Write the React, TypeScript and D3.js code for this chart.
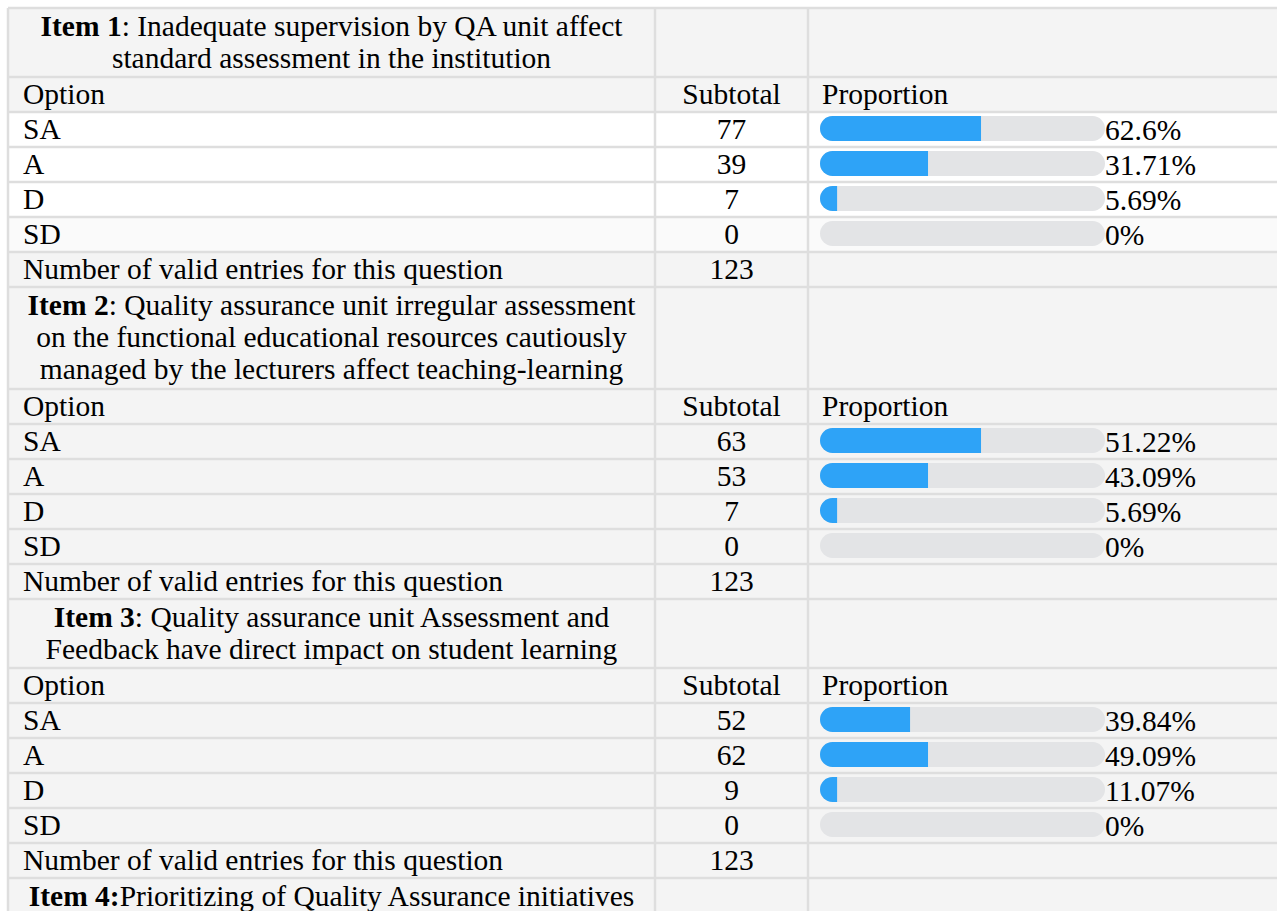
import React, { useEffect } from 'react';
import * as d3 from 'd3';

const options = ['SA', 'A', 'D', 'SD'];
const itemLabels = ['Item 1', 'Item 2', 'Item 3', 'Item 4:'];
const itemTitles = [
  [': Inadequate supervision by QA unit affect', 'standard assessment in the institution'],
  [
    ': Quality assurance unit irregular assessment',
    'on the functional educational resources cautiously',
    'managed by the lecturers affect teaching-learning',
  ],
  [': Quality assurance unit Assessment and', 'Feedback have direct impact on student learning'],
  ['Prioritizing of Quality Assurance initiatives'],
];
const subtotals = [
  [77, 39, 7, 0],
  [63, 53, 7, 0],
  [52, 62, 9, 0],
];
const proportionLabels = [
  ['62.6%', '31.71%', '5.69%', '0%'],
  ['51.22%', '43.09%', '5.69%', '0%'],
  ['39.84%', '49.09%', '11.07%', '0%'],
];
// bar fill as drawn in the picture (share of the grey track)
const barFill = [
  [0.565, 0.379, 0.06, 0],
  [0.565, 0.379, 0.06, 0],
  [0.316, 0.379, 0.06, 0],
];
const validEntries = [123, 123, 123];

const W = 1277;
const H = 911;
const left = 8;
const top = 8;
const col1 = 655;
const col2 = 808;
const rowH = 35;
const lineH = 33;
const font = '"Liberation Serif", "Times New Roman", serif';
const fs = 29.5;

export default function App() {
  useEffect(() => {
    document.body.style.margin = '0';
  }, []);

  const x = d3.scaleLinear().domain([0, 1]).range([820, 1105]);

  // build row layout
  type Row = { kind: string; y: number; h: number; item: number; opt?: number };
  const rows: Row[] = [];
  let y = top;
  itemTitles.forEach((lines, i) => {
    const hh = lines.length * lineH + 3;
    rows.push({ kind: 'head', y, h: hh, item: i });
    y += hh;
    if (i >= subtotals.length) return;
    rows.push({ kind: 'option', y, h: rowH, item: i });
    y += rowH;
    options.forEach((_, j) => {
      rows.push({ kind: 'data', y, h: rowH, item: i, opt: j });
      y += rowH;
    });
    rows.push({ kind: 'valid', y, h: rowH, item: i });
    y += rowH;
  });

  const bg = (r: Row) => {
    if (r.kind === 'data' && r.item === 0) return r.opt === 3 ? '#fafafa' : '#ffffff';
    return '#f4f4f4';
  };

  const txt = { fontFamily: font, fontSize: fs, fill: '#000' } as const;

  return (
    <svg width={W} height={H} style={{ display: 'block' }}>
      <rect x={0} y={0} width={W} height={H} fill="#fff" />
      {rows.map((r, k) => (
        <rect key={'bg' + k} x={left} y={r.y} width={W - left} height={r.h} fill={bg(r)} />
      ))}
      {rows.map((r, k) => {
        const base = r.y + 27;
        if (r.kind === 'head') {
          const lines = itemTitles[r.item];
          return (
            <g key={'t' + k}>
              {lines.map((ln, li) => (
                <text
                  key={li}
                  x={(left + col1) / 2}
                  y={r.y + 28 + li * 32}
                  textAnchor="middle"
                  style={txt}
                >
                  {li === 0 && <tspan fontWeight="bold">{itemLabels[r.item]}</tspan>}
                  {ln}
                </text>
              ))}
            </g>
          );
        }
        if (r.kind === 'option') {
          return (
            <g key={'t' + k}>
              <text x={23} y={base} style={txt}>Option</text>
              <text x={(col1 + col2) / 2} y={base} textAnchor="middle" style={txt}>Subtotal</text>
              <text x={822} y={base} style={txt}>Proportion</text>
            </g>
          );
        }
        if (r.kind === 'valid') {
          return (
            <g key={'t' + k}>
              <text x={23} y={base} style={txt}>Number of valid entries for this question</text>
              <text x={(col1 + col2) / 2} y={base} textAnchor="middle" style={txt}>
                {validEntries[r.item]}
              </text>
            </g>
          );
        }
        const j = r.opt as number;
        const f = barFill[r.item][j];
        const by = r.y + 4;
        const bh = 25;
        const clipId = `clip-${r.item}-${j}`;
        return (
          <g key={'t' + k}>
            <text x={23} y={base} style={txt}>{options[j]}</text>
            <text x={(col1 + col2) / 2} y={base} textAnchor="middle" style={txt}>
              {subtotals[r.item][j]}
            </text>
            <clipPath id={clipId}>
              <rect x={x(0)} y={by} width={x(1) - x(0)} height={bh} rx={bh / 2} />
            </clipPath>
            <rect x={x(0)} y={by} width={x(1) - x(0)} height={bh} rx={bh / 2} fill="#e3e4e6" />
            <rect
              x={x(0)}
              y={by}
              width={x(f) - x(0)}
              height={bh}
              fill="#2ea3f7"
              clipPath={`url(#${clipId})`}
            />
            <text x={x(1)} y={r.y + 28} style={txt}>{proportionLabels[r.item][j]}</text>
          </g>
        );
      })}
      {/* grid lines */}
      {rows.map((r, k) => (
        <line key={'h' + k} x1={left} x2={W} y1={r.y} y2={r.y} stroke="#dedede" strokeWidth={2.5} />
      ))}
      {[left, col1, col2].map((cx, k) => (
        <line key={'v' + k} x1={cx} x2={cx} y1={top} y2={H} stroke="#dedede" strokeWidth={2.5} />
      ))}
    </svg>
  );
}
